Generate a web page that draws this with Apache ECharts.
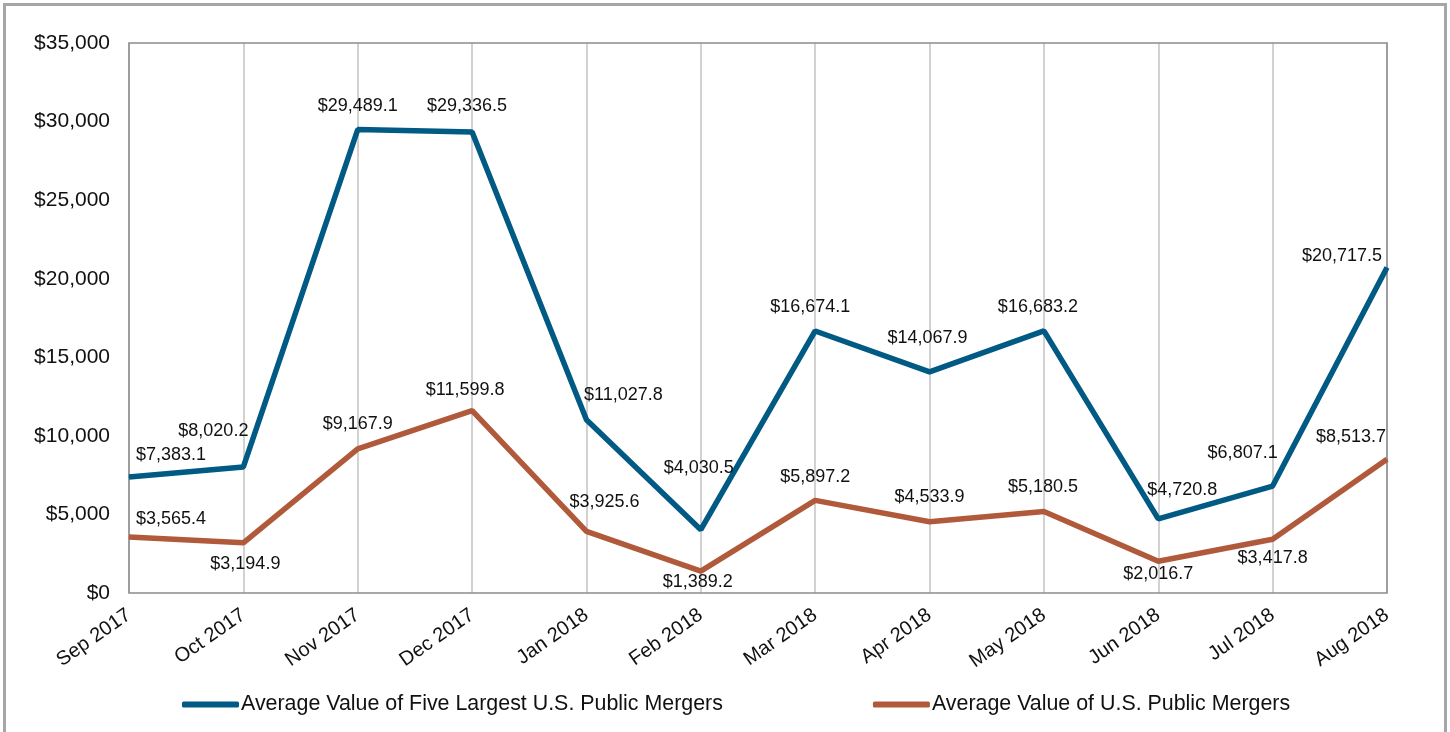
<!DOCTYPE html>
<html>
<head>
<meta charset="utf-8">
<script src="https://cdn.jsdelivr.net/npm/echarts@6/dist/echarts.min.js"></script>
<style>
  html, body { margin: 0; padding: 0; background: #fff; }
  #chart { width: 1450px; height: 732px; }
</style>
</head>
<body>
<div id="chart"></div>
<script>
var months = ['Sep 2017', 'Oct 2017', 'Nov 2017', 'Dec 2017', 'Jan 2018', 'Feb 2018',
  'Mar 2018', 'Apr 2018', 'May 2018', 'Jun 2018', 'Jul 2018', 'Aug 2018'];
var topFive = [7383.1, 8020.2, 29489.1, 29336.5, 11027.8, 4030.5,
  16674.1, 14067.9, 16683.2, 4720.8, 6807.1, 20717.5];
var allMergers = [3565.4, 3194.9, 9167.9, 11599.8, 3925.6, 1389.2,
  5897.2, 4533.9, 5180.5, 2016.7, 3417.8, 8513.7];
var seriesNames = ['Average Value of Five Largest U.S. Public Mergers', 'Average Value of U.S. Public Mergers'];

// label placement (text centre relative to the point)
var topFiveOffsets = [[42, -22], [-30, -36], [0, -24], [-5, -26], [37, -25], [-2, -62],
  [-5, -24], [-2, -34], [-6, -24], [24, -29], [-30, -33], [-45, -11]];
var allOffsets = [[42, -18], [2, 21], [0, -25], [-7, -21], [18, -29], [-3, 11],
  [0, -23], [0, -25], [-1, -25], [0, 13], [0, 19], [-36, -22]];

function money(v) {
  return '$' + v.toFixed(1).replace(/\B(?=(\d{3})+(?!\d))/g, ',');
}

function withLabels(values, offsets) {
  return values.map(function (v, i) {
    return { value: v, label: { offset: offsets[i] } };
  });
}

var chart = echarts.init(document.getElementById('chart'));
var font = 'Liberation Sans, Arial, sans-serif';

var labelStyle = {
  show: true, position: 'inside', fontSize: 18, color: '#111', fontFamily: font,
  formatter: function (p) { return money(p.value); }
};

var option = {
  animation: false,
  textStyle: { fontFamily: font },
  grid: { left: 129, right: 63, top: 43, bottom: 139 },
  legend: {
    top: 689,
    left: 177,
    itemWidth: 57,
    itemHeight: 6,
    itemGap: 150,
    icon: 'roundRect',
    textStyle: { fontSize: 21.4, color: '#111', fontFamily: font, padding: [0, 0, 0, -3] },
    data: seriesNames
  },
  xAxis: {
    type: 'category',
    data: months,
    boundaryGap: false,
    axisLine: { show: false },
    axisTick: { show: false },
    splitLine: { show: true, lineStyle: { color: '#c3c3c3', width: 1.5 } },
    axisLabel: { rotate: 35, fontSize: 20, color: '#111', margin: 20, fontFamily: font }
  },
  yAxis: {
    type: 'value',
    min: 0,
    max: 35000,
    interval: 5000,
    axisLine: { show: false },
    axisTick: { show: false },
    splitLine: { show: false },
    axisLabel: {
      fontSize: 21, color: '#111', margin: 19, fontFamily: font,
      formatter: function (v) { return '$' + v.toString().replace(/\B(?=(\d{3})+(?!\d))/g, ','); }
    }
  },
  series: [
    {
      name: seriesNames[0],
      type: 'line',
      data: withLabels(topFive, topFiveOffsets),
      symbol: 'circle',
      symbolSize: 1,
      lineStyle: { color: '#005a84', width: 5.5 },
      itemStyle: { color: '#005a84' },
      label: labelStyle,
      z: 4
    },
    {
      name: seriesNames[1],
      type: 'line',
      data: withLabels(allMergers, allOffsets),
      symbol: 'circle',
      symbolSize: 1,
      lineStyle: { color: '#b15a3b', width: 5.5 },
      itemStyle: { color: '#b15a3b' },
      label: labelStyle,
      z: 3
    }
  ]
};
chart.setOption(option);

// outer frame and plot-area frame drawn on the grid bounds
var g = chart.getModel().getComponent('grid').coordinateSystem.getRect();
chart.setOption({
  graphic: [{
    type: 'rect',
    shape: { x: 4.5, y: 4.5, width: 1441, height: 740 },
    style: { fill: 'none', stroke: '#a6a6a9', lineWidth: 3 },
    silent: true
  }, {
    type: 'rect',
    shape: { x: g.x, y: g.y, width: g.width, height: g.height },
    style: { fill: 'none', stroke: '#8c8c8c', lineWidth: 1.5 },
    silent: true,
    z: 1
  }]
});
</script>
</body>
</html>
